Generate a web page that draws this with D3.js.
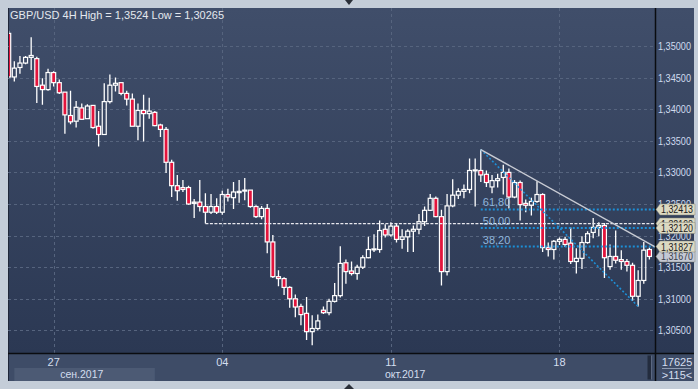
<!DOCTYPE html>
<html lang="ru">
<head>
<meta charset="UTF-8">
<title>GBP/USD 4H</title>
<script src="https://d3js.org/d3.v7.min.js"></script>
<style>
  body { margin: 0; background: #c4cdd8; }
  svg { display: block; font-family: "Liberation Sans", Arial, sans-serif; }
</style>
</head>
<body>
<svg width="698" height="389"></svg>
<script>
// 4H candles, left to right
const opens = [1.3520,1.3451,1.3466,1.3473,1.3482,1.3480,1.3438,1.3431,1.3458,1.3442,
  1.3427,1.3390,1.3381,1.3402,1.3385,1.3406,1.3373,1.3360,1.3412,1.3438,
  1.3442,1.3425,1.3416,1.3373,1.3398,1.3393,1.3395,1.3375,1.3368,1.3316,
  1.3279,1.3276,1.3276,1.3251,1.3253,1.3246,1.3237,1.3246,1.3237,1.3265,
  1.3260,1.3268,1.3271,1.3272,1.3246,1.3230,1.3243,1.3190,1.3135,1.3132,
  1.3118,1.3100,1.3088,1.3077,1.3048,1.3053,1.3082,1.3078,1.3096,1.3105,
  1.3157,1.3144,1.3140,1.3150,1.3165,1.3178,1.3178,1.3210,1.3201,1.3215,
  1.3194,1.3198,1.3207,1.3210,1.3222,1.3240,1.3259,1.3230,1.3143,1.3247,
  1.3264,1.3270,1.3273,1.3303,1.3303,1.3297,1.3277,1.3287,1.3292,1.3300,
  1.3261,1.3284,1.3251,1.3248,1.3254,1.3265,1.3181,1.3178,1.3191,1.3194,
  1.3188,1.3159,1.3164,1.3189,1.3205,1.3213,1.3216,1.3151,1.3167,1.3162,
  1.3159,1.3153,1.3104,1.3129,1.3178];
const highs = [1.3524,1.3476,1.3484,1.3484,1.3514,1.3483,1.3449,1.3464,1.3460,1.3447,
  1.3427,1.3429,1.3413,1.3409,1.3408,1.3406,1.3397,1.3441,1.3455,1.3450,
  1.3442,1.3429,1.3425,1.3409,1.3423,1.3418,1.3397,1.3377,1.3372,1.3320,
  1.3296,1.3288,1.3279,1.3258,1.3288,1.3267,1.3266,1.3259,1.3271,1.3274,
  1.3285,1.3288,1.3291,1.3272,1.3248,1.3247,1.3250,1.3201,1.3145,1.3134,
  1.3120,1.3107,1.3092,1.3103,1.3074,1.3075,1.3088,1.3100,1.3125,1.3183,
  1.3162,1.3159,1.3154,1.3169,1.3198,1.3202,1.3224,1.3218,1.3221,1.3220,
  1.3210,1.3210,1.3216,1.3234,1.3246,1.3266,1.3262,1.3241,1.3266,1.3289,
  1.3275,1.3281,1.3322,1.3322,1.33362,1.3303,1.3296,1.3298,1.3312,1.3306,
  1.3288,1.3287,1.3257,1.3260,1.3286,1.3267,1.3189,1.3193,1.3197,1.3198,
  1.3213,1.3180,1.3199,1.3207,1.3228,1.3221,1.3220,1.3186,1.3208,1.3177,
  1.3163,1.3157,1.3145,1.3190,1.3181];
const lows = [1.3450,1.3444,1.3456,1.3471,1.3462,1.3410,1.3407,1.3429,1.3436,1.3424,
  1.3361,1.3376,1.3371,1.3383,1.3385,1.3369,1.3341,1.3359,1.3409,1.3428,
  1.3422,1.3406,1.3373,1.3351,1.3349,1.3385,1.3373,1.3356,1.3299,1.3261,
  1.3255,1.3269,1.3249,1.3228,1.3238,1.3219,1.3234,1.3234,1.3233,1.3254,
  1.3242,1.3252,1.3256,1.3244,1.3228,1.3226,1.3172,1.3133,1.3120,1.3106,
  1.3086,1.3071,1.3058,1.3035,1.30265,1.3050,1.3076,1.3074,1.3094,1.3102,
  1.3124,1.3137,1.3130,1.3147,1.3164,1.3174,1.3173,1.3197,1.3198,1.3189,
  1.3179,1.3174,1.3174,1.3202,1.3215,1.3239,1.3229,1.3121,1.3137,1.3245,
  1.3258,1.3259,1.3267,1.3246,1.3285,1.3277,1.3267,1.3276,1.3265,1.3243,
  1.3259,1.3224,1.3237,1.3232,1.3252,1.3174,1.3167,1.3162,1.3185,1.3182,
  1.3155,1.3140,1.3147,1.3187,1.3196,1.3199,1.3133,1.3146,1.3156,1.3146,
  1.3143,1.3097,1.30879,1.3124,1.3162];
const closes = [1.3451,1.3465,1.3473,1.3482,1.3485,1.3436,1.3431,1.3458,1.3442,1.3426,
  1.3391,1.3380,1.3403,1.3384,1.3405,1.3371,1.3360,1.3412,1.3438,1.3441,
  1.3425,1.3416,1.3373,1.3398,1.3393,1.3397,1.3374,1.3368,1.3316,1.3279,
  1.3271,1.3273,1.3250,1.3253,1.3246,1.3237,1.3246,1.3237,1.3265,1.3261,
  1.3269,1.3270,1.3272,1.3246,1.3230,1.3243,1.3190,1.3135,1.3132,1.3118,
  1.3100,1.3087,1.3075,1.3048,1.3053,1.3065,1.3078,1.3096,1.3105,1.3156,
  1.3143,1.3140,1.3150,1.3165,1.3178,1.3179,1.3208,1.3201,1.3215,1.3194,
  1.3198,1.3207,1.3210,1.3222,1.3240,1.3259,1.3230,1.3143,1.3247,1.3264,
  1.3270,1.3273,1.3303,1.3304,1.3296,1.3284,1.3287,1.3290,1.3300,1.3261,
  1.3284,1.3249,1.3248,1.3254,1.3265,1.3181,1.3178,1.3191,1.3194,1.3186,
  1.3159,1.3164,1.3189,1.3203,1.3213,1.3216,1.3165,1.3167,1.3161,1.3159,
  1.3153,1.3104,1.3129,1.3177,1.3167];

const priceTicks = [1.305, 1.31, 1.315, 1.32, 1.325, 1.33, 1.335, 1.34, 1.345, 1.35];
const dayTickIdx = [8, 38, 68, 98];
const dayTickLabels = ["27", "04", "11", "18"];
const monthLabels = ["сен.2017", "окт.2017"];
const monthStartIdx = [1, 26];

// fibonacci retracement drawn from the swing high to the swing low
const fibFrom = [84, 1.33362];
const fibTo = [112, 1.30879];
const fibRatios = ["61,80", "50,00", "38,20"];
const fibPrices = [1.32413, 1.32120, 1.31827];
const trendIdx = [84, 113];
const trendPrices = [1.33362, 1.3192];
const supportIdx = 35;
const lastPrice = 1.3167;

const svg = d3.select("svg");
const L = 8, T = 8, R = 694, B = 381;
const plotR = 655.5, plotB = 353.5;

const x = d3.scaleLinear().domain([0, 114]).range([8.7, 649.4]);
const y = d3.scaleLinear().domain([1.305, 1.35]).range([330.4, 46]);
const fmt = v => d3.format(".5f")(v).replace(".", ",");

const defs = svg.append("defs");
const grad = defs.append("linearGradient").attr("id", "bg")
  .attr("x1", 0).attr("y1", 0).attr("x2", 0).attr("y2", 1);
grad.append("stop").attr("offset", 0).attr("stop-color", "#404e6a");
grad.append("stop").attr("offset", 1).attr("stop-color", "#2b3853");
defs.append("clipPath").attr("id", "clip").append("rect")
  .attr("x", 9).attr("y", T).attr("width", plotR - 9).attr("height", plotB - T);

// frame
svg.append("rect").attr("width", 698).attr("height", 389).attr("fill", "#c4cdd8");
svg.append("rect").attr("x", L).attr("y", T).attr("width", R - L).attr("height", B - T).attr("fill", "#3e4c67");
svg.append("rect").attr("x", L).attr("y", T).attr("width", R - L).attr("height", plotB - T).attr("fill", "url(#bg)");
svg.append("line").attr("x1", L + 0.5).attr("x2", L + 0.5).attr("y1", T).attr("y2", B).attr("stroke", "#1f2739");
svg.append("path").attr("d", "M345,0 L353,0 L349,5 Z").attr("fill", "#2a2f38");
svg.append("path").attr("d", "M349,384 L354,389 L344,389 Z").attr("fill", "#2a2f38");

// grid
svg.append("g").selectAll("line").data(priceTicks).join("line")
  .attr("x1", L).attr("x2", plotR).attr("y1", d => Math.round(y(d)) + 0.5).attr("y2", d => Math.round(y(d)) + 0.5)
  .attr("stroke", "#56647e").attr("stroke-dasharray", "3,3");
svg.append("g").selectAll("line").data(dayTickIdx).join("line")
  .attr("x1", d => Math.round(x(d)) + 0.5).attr("x2", d => Math.round(x(d)) + 0.5)
  .attr("y1", T).attr("y2", plotB)
  .attr("stroke", "#56647e").attr("stroke-dasharray", "3,3");

// title
svg.append("text").attr("x", 10).attr("y", 19).attr("font-size", 11).attr("fill", "#e4e8ee")
  .text("GBP/USD 4H  High = 1,3524 Low = 1,30265");

// candles
const candles = opens.map((o, i) => ({ i, o, h: highs[i], l: lows[i], c: closes[i] }));
const cg = svg.append("g").attr("clip-path", "url(#clip)");
const bodyW = 4;
cg.selectAll(".wickTop").data(candles).join("line")
  .attr("x1", d => x(d.i)).attr("x2", d => x(d.i))
  .attr("y1", d => y(d.h)).attr("y2", d => y(Math.max(d.o, d.c)))
  .attr("stroke", "#fff").attr("stroke-width", 1.3);
cg.selectAll(".wickBot").data(candles).join("line")
  .attr("x1", d => x(d.i)).attr("x2", d => x(d.i))
  .attr("y1", d => y(Math.min(d.o, d.c))).attr("y2", d => y(d.l))
  .attr("stroke", "#fff").attr("stroke-width", 1.3);
cg.selectAll("rect").data(candles).join("rect")
  .attr("x", d => x(d.i) - bodyW / 2)
  .attr("y", d => y(Math.max(d.o, d.c)))
  .attr("width", bodyW)
  .attr("height", d => Math.max(1, y(Math.min(d.o, d.c)) - y(Math.max(d.o, d.c))))
  .attr("fill", d => d.c >= d.o ? "none" : "#e3143c")
  .attr("stroke", "#fff").attr("stroke-width", 1.2);

// support level from the low
const sx = x(supportIdx), sy = y(lows[supportIdx]);
svg.append("line").attr("x1", sx).attr("x2", plotR).attr("y1", sy).attr("y2", sy)
  .attr("stroke", "#e8e8ee").attr("stroke-width", 1.2).attr("stroke-dasharray", "3,1.5");

// fibonacci
const fg = svg.append("g");
fg.append("line")
  .attr("x1", x(fibFrom[0])).attr("y1", y(fibFrom[1]))
  .attr("x2", x(fibTo[0])).attr("y2", y(fibTo[1]))
  .attr("stroke", "#1d8fd6").attr("stroke-width", 1.6).attr("stroke-dasharray", "2,2");
fg.selectAll(".fl").data(fibPrices).join("line")
  .attr("x1", x(fibFrom[0])).attr("x2", plotR)
  .attr("y1", d => y(d)).attr("y2", d => y(d))
  .attr("stroke", "#1d8fd6").attr("stroke-width", 2).attr("stroke-dasharray", "2,2");
fg.selectAll("text").data(fibPrices).join("text")
  .attr("x", x(fibFrom[0]) + 2).attr("y", d => y(d) - 3)
  .attr("font-size", 11).attr("fill", "#8fb6dc")
  .text((d, i) => fibRatios[i]);

// trendline
const trend = d3.scaleLinear().domain(trendIdx).range(trendPrices);
const endIdx = x.invert(plotR);
svg.append("line")
  .attr("x1", x(trendIdx[0])).attr("y1", y(trendPrices[0]))
  .attr("x2", plotR).attr("y2", y(trend(endIdx)))
  .attr("stroke", "#c9ccd4").attr("stroke-width", 1.4);

// separators
svg.append("line").attr("x1", L).attr("x2", R).attr("y1", plotB).attr("y2", plotB).attr("stroke", "#0a0c10").attr("stroke-width", 1.5);
svg.append("line").attr("x1", plotR).attr("x2", plotR).attr("y1", T).attr("y2", B).attr("stroke", "#0a0c10").attr("stroke-width", 1.5);

// price axis
svg.append("g").selectAll("text").data(priceTicks).join("text")
  .attr("x", 658).attr("y", d => y(d) + 4)
  .attr("font-size", 11).attr("fill", "#cfdaee")
  .attr("textLength", 33).attr("lengthAdjust", "spacingAndGlyphs")
  .text(d => fmt(d));

// price tags
function tag(price, label, fill, color) {
  const cy = y(price);
  const g = svg.append("g");
  g.append("path")
    .attr("d", `M656,${cy} L660,${cy - 5.5} L695,${cy - 5.5} L695,${cy + 5.5} L660,${cy + 5.5} Z`)
    .attr("fill", fill).attr("stroke", "#8a8a7a").attr("stroke-width", 0.5);
  g.append("text").attr("x", 661).attr("y", cy + 4)
    .attr("font-size", 11).attr("fill", color)
    .attr("textLength", 32).attr("lengthAdjust", "spacingAndGlyphs")
    .text(label);
}
tag(lastPrice, fmt(lastPrice), "#c4c8d4", "#3a3f4a");
tag(fibPrices[0], fmt(fibPrices[0]), "#dcd9c2", "#1c1c1c");
tag(lows[supportIdx], fmt(lows[supportIdx]), "#dcd9c2", "#1c1c1c");
tag(fibPrices[1], fmt(fibPrices[1]), "#dcd9c2", "#1c1c1c");
tag(fibPrices[2], fmt(fibPrices[2]), "#dcd9c2", "#1c1c1c");

// time axis
svg.append("rect").attr("x", x(monthStartIdx[0])).attr("y", 368)
  .attr("width", x(monthStartIdx[1]) - x(monthStartIdx[0])).attr("height", 13)
  .attr("fill", "#4c5a74");
svg.append("g").selectAll("text").data(dayTickIdx).join("text")
  .attr("x", d => x(d)).attr("y", 366).attr("text-anchor", "middle")
  .attr("font-size", 11).attr("fill", "#d4deef")
  .text((d, i) => dayTickLabels[i]);
const monthEnds = [monthStartIdx[1], endIdx];
svg.append("g").selectAll("text").data(monthLabels).join("text")
  .attr("x", (d, i) => (x(i === 0 ? 0 : monthStartIdx[i]) + x(monthEnds[i])) / 2)
  .attr("y", 377.5).attr("text-anchor", "middle")
  .attr("font-size", 10.5).attr("fill", "#d4deef")
  .text(d => d);

// scroll thumb + bottom-right counter
svg.append("rect").attr("x", 647.5).attr("y", 355.5).attr("width", 4).attr("height", 24).attr("fill", "#232c3e");
svg.append("line").attr("x1", 651.5).attr("x2", 651.5).attr("y1", 355.5).attr("y2", 379.5).attr("stroke", "#5a6780");
svg.append("text").attr("x", 677).attr("y", 365.5).attr("text-anchor", "middle")
  .attr("font-size", 11).attr("fill", "#d4deef").text("17625");
svg.append("line").attr("x1", 662).attr("x2", 691).attr("y1", 368.5).attr("y2", 368.5).attr("stroke", "#8e9bb2");
svg.append("text").attr("x", 677).attr("y", 378.5).attr("text-anchor", "middle")
  .attr("font-size", 11).attr("fill", "#d4deef").text(">115<");
</script>
</body>
</html>
